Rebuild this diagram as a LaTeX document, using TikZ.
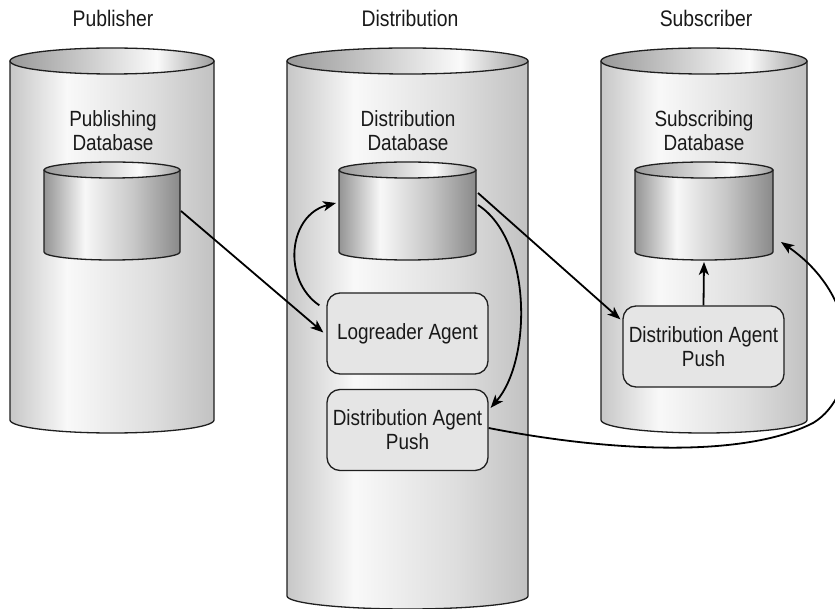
\documentclass[tikz,border=0pt]{standalone}
\usepackage{fontspec}
\setmainfont[FakeStretch=0.86]{Liberation Sans}
\usetikzlibrary{arrows.meta}

\definecolor{cylline}{gray}{0.12}
\definecolor{txt}{gray}{0.1}
\definecolor{bbL}{gray}{0.78}
\definecolor{bbH}{gray}{0.975}
\definecolor{bbM}{gray}{0.87}
\definecolor{bbR}{gray}{0.76}
\definecolor{btL}{gray}{0.60}
\definecolor{btH}{gray}{0.98}
\definecolor{btR}{gray}{0.62}
\definecolor{sbL}{gray}{0.58}
\definecolor{sbH}{gray}{0.97}
\definecolor{sbM}{gray}{0.78}
\definecolor{sbR}{gray}{0.54}
\definecolor{boxfill}{gray}{0.90}

\pgfdeclarehorizontalshading{bigbody}{100bp}{color(0bp)=(bbL); color(25bp)=(bbL); color(39bp)=(bbH); color(60bp)=(bbM); color(75bp)=(bbR); color(100bp)=(bbR)}
\pgfdeclarehorizontalshading{bigtop}{100bp}{color(0bp)=(btL); color(25bp)=(btL); color(61bp)=(btH); color(75bp)=(btR); color(100bp)=(btR)}
\pgfdeclarehorizontalshading{smallbody}{100bp}{color(0bp)=(sbL); color(25bp)=(sbL); color(40bp)=(sbH); color(58bp)=(sbM); color(75bp)=(sbR); color(100bp)=(sbR)}
\pgfdeclarehorizontalshading{smalltop}{100bp}{color(0bp)=(btL); color(25bp)=(btL); color(60bp)=(btH); color(75bp)=(btR); color(100bp)=(btR)}

% #1 left x, #2 right x, #3 top centre y, #4 bottom centre y, #5 y radius, #6 body shading, #7 top shading
\newcommand\drawcyl[7]{%
  \pgfmathsetmacro\cylcx{(#1+#2)/2}%
  \pgfmathsetmacro\cylrx{(#2-#1)/2}%
  \path[shade, shading=#6, draw=cylline, line width=1.3pt, line join=round]
    (#1,#3) -- (#1,#4) arc[start angle=180, end angle=0, x radius=\cylrx, y radius=#5] -- (#2,#3) -- cycle;
  \path[shade, shading=#7, draw=cylline, line width=1.3pt]
    (\cylcx,#3) ellipse[x radius=\cylrx, y radius=#5];
}

\tikzset{
  hdr/.style={font=\fontsize{22.5}{24}\selectfont, text=txt, align=center, inner sep=0pt},
  lbl/.style={font=\fontsize{22}{24}\selectfont, text=txt, align=center, inner sep=0pt},
  agent/.style={draw=cylline, fill=boxfill, line width=1.3pt, rounded corners=13pt,
    minimum width=161pt, minimum height=81pt, align=center, text=txt,
    font=\fontsize{22}{24}\selectfont, inner sep=0pt},
  arr/.style={draw=black, line width=1.8pt, -{Stealth[length=13pt, width=10pt, inset=3.5pt]}},
}

\begin{document}
\begin{tikzpicture}[x=1pt, y=-1pt]
\useasboundingbox (0,0) rectangle (835,609);
\fill[white] (0,0) rectangle (835,609);

% headers
\node[hdr] (hpub) at (113,18) {Publisher};
\node[hdr] (hdist) at (410,18) {Distribution};
\node[hdr] (hsub) at (706,18) {Subscriber};

% big cylinders
\drawcyl{10}{214}{61}{420}{13}{bigbody}{bigtop}
\drawcyl{287}{528}{61}{596}{13}{bigbody}{bigtop}
\drawcyl{601}{807}{61}{420}{13}{bigbody}{bigtop}

% labels
\node[lbl] (lpub) at (113,131) {Publishing\\Database};
\node[lbl] (ldist) at (408,131) {Distribution\\Database};
\node[lbl] (lsub) at (704,131) {Subscribing\\Database};

% small cylinders
\drawcyl{44}{180}{170}{252}{8}{smallbody}{smalltop}
\drawcyl{339}{476}{170}{252}{8}{smallbody}{smalltop}
\drawcyl{635}{773}{170}{252}{8}{smallbody}{smalltop}

% connector end points on the small cylinders
\coordinate (pubdbR) at (181,211);
\coordinate (distdbL) at (336,203);
\coordinate (distdbR1) at (478,193);
\coordinate (distdbR2) at (478,205);
\coordinate (subdbB) at (704,262);
\coordinate (subdbR) at (781,242);

% agents
\node[agent] (logr) at (407.5,333.5) {Logreader Agent};
\node[agent] (dpush) at (407.5,430) {Distribution Agent\\Push};
\node[agent] (spush) at (703.5,346.5) {Distribution Agent\\Push};

% connectors
\draw[arr] (pubdbR) -- ([shift={(-3,-1)}]logr.west);
\draw[arr] ([shift={(-7,13)}]logr.north west) .. controls (282,280) and (288,215) .. (distdbL);
\draw[arr] (distdbR1) -- ([shift={(-2,14)}]spush.north west);
\draw[arr] (distdbR2) .. controls (532,240) and (532,360) .. ([shift={(2,19)}]dpush.north east);
\draw[arr] (spush.north) -- (subdbB);
\draw[arr] ([yshift=2]dpush.east) .. controls (600,450) and (740,460) .. (813,423)
  .. controls (860,395) and (865,300) .. (subdbR);
\end{tikzpicture}
\end{document}
